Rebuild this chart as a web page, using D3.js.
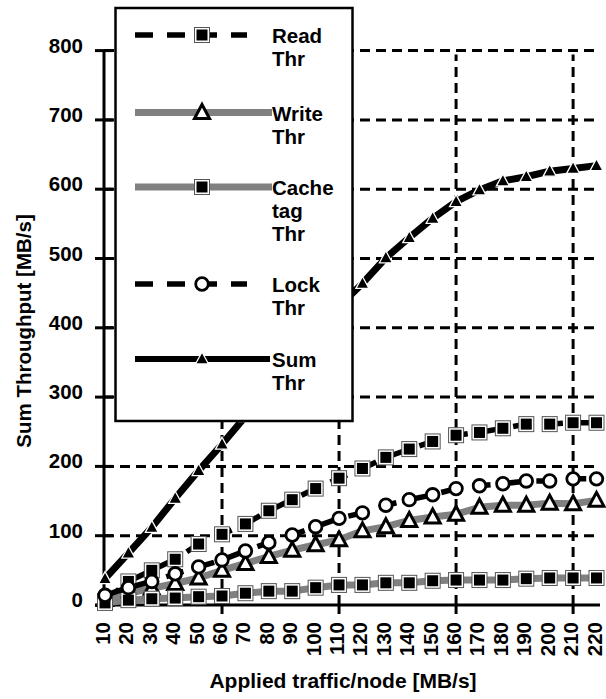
<!DOCTYPE html>
<html>
<head>
<meta charset="utf-8">
<script src="https://cdn.jsdelivr.net/npm/d3@7"></script>
<style>
  html, body { margin: 0; padding: 0; background: #fff; }
  svg { display: block; }
  text { font-family: "Liberation Sans", Arial, sans-serif; font-weight: bold; fill: #000; }
</style>
</head>
<body>
<svg id="chart" width="606" height="699"></svg>
<script>
// ---------------- data ----------------
const categories = [10, 20, 30, 40, 50, 60, 70, 80, 90, 100, 110, 120, 130, 140, 150, 160, 170, 180, 190, 200, 210, 220];
const readThr  = [6, 34, 50, 66, 88, 102, 117, 136, 152, 168, 183, 197, 213, 225, 236, 245, 249, 255, 261, 261, 263, 263];
const writeThr = [8, 17, 24, 31, 39, 50, 60, 70, 79, 87, 94, 107, 113, 122, 127, 131, 141, 144, 144, 147, 146, 151];
const cacheTagThr = [3, 7, 9, 10, 12, 13, 17, 20, 20, 25, 29, 29, 32, 32, 35, 36, 36, 36, 38, 39, 39, 39];
const lockThr  = [14, 25, 34, 45, 55, 65, 78, 90, 101, 113, 125, 133, 144, 152, 159, 168, 172, 175, 179, 179, 182, 182];
const sumThr   = [38, 75, 112, 154, 194, 232, 272, 316, 352, 394, 431, 464, 501, 530, 558, 582, 599, 612, 618, 626, 630, 634];
const yTicks = [0, 100, 200, 300, 400, 500, 600, 700, 800];
const xMajorTicks = [10, 60, 110, 160, 210];
const seriesNames = [["Read", "Thr"], ["Write", "Thr"], ["Cache", "tag", "Thr"], ["Lock", "Thr"], ["Sum", "Thr"]];
const xTitle = "Applied traffic/node [MB/s]";
const yTitle = "Sum Throughput [MB/s]";

// ---------------- layout ----------------
const svg = d3.select("#chart");
const x = d3.scalePoint().domain(categories).range([105, 596.5]);
const y = d3.scaleLinear().domain([0, 800]).range([605, 50.6]);
const xLeft = 104, xRight = 600;
const GRAY = "#808080";

// gridlines
const grid = svg.append("g");
grid.selectAll("line.h").data(yTicks.filter(d => d > 0)).join("line")
  .attr("x1", xLeft).attr("x2", xRight)
  .attr("y1", d => y(d)).attr("y2", d => y(d))
  .attr("stroke", "#000").attr("stroke-width", 3).attr("stroke-dasharray", "10,6");
grid.selectAll("line.v").data(xMajorTicks.filter(d => d !== 10)).join("line")
  .attr("x1", d => x(d)).attr("x2", d => x(d))
  .attr("y1", y(0)).attr("y2", y(800) + 4)
  .attr("stroke", "#000").attr("stroke-width", 3).attr("stroke-dasharray", "10,6");

// axes
const axes = svg.append("g");
axes.append("line").attr("x1", xLeft).attr("x2", xLeft).attr("y1", y(800)).attr("y2", y(0) + 1.5)
  .attr("stroke", "#000").attr("stroke-width", 3);
axes.append("line").attr("x1", xLeft).attr("x2", xRight).attr("y1", y(0)).attr("y2", y(0))
  .attr("stroke", "#000").attr("stroke-width", 3);
axes.selectAll("line.yt").data(yTicks).join("line")
  .attr("x1", 95).attr("x2", 113).attr("y1", d => y(d)).attr("y2", d => y(d))
  .attr("stroke", "#000").attr("stroke-width", 3);
axes.selectAll("line.xt").data(xMajorTicks.filter(d => d !== 10)).join("line")
  .attr("x1", d => x(d)).attr("x2", d => x(d)).attr("y1", y(0)).attr("y2", y(0) + 9)
  .attr("stroke", "#000").attr("stroke-width", 3);
axes.selectAll("text.yl").data(yTicks).join("text")
  .attr("x", 83).attr("y", d => y(d) + 2)
  .attr("text-anchor", "end").attr("font-size", 20.5).text(d => d);
axes.selectAll("text.xl").data(categories).join("text")
  .attr("transform", d => `translate(${x(d) + 5},622) rotate(-90)`)
  .attr("text-anchor", "end").attr("font-size", 20.5).text(d => d);
svg.append("text").attr("x", 343).attr("y", 688).attr("text-anchor", "middle")
  .attr("font-size", 21).text(xTitle);
svg.append("text").attr("transform", "translate(31,331) rotate(-90)").attr("text-anchor", "middle")
  .attr("font-size", 20.5).text(yTitle);

// ---------------- markers ----------------
function squareMarker(g) {
  g.append("rect").attr("x", -7.5).attr("y", -7.5).attr("width", 15).attr("height", 15)
    .attr("fill", "#fff").attr("stroke", "#555").attr("stroke-width", 1);
  g.append("rect").attr("x", -5.5).attr("y", -5.5).attr("width", 11).attr("height", 11).attr("fill", "#000");
}
function openTriangle(g) {
  g.append("path").attr("d", "M0,-8 L7.5,6 L-7.5,6 Z")
    .attr("fill", "#fff").attr("stroke", "#000").attr("stroke-width", 3).attr("stroke-linejoin", "miter");
}
function openCircle(g) {
  g.append("circle").attr("r", 6.3).attr("fill", "#fff").attr("stroke", "#000").attr("stroke-width", 2.8);
}
function filledTriangle(g) {
  g.append("path").attr("d", "M0,-7 L6.5,5 L-6.5,5 Z")
    .attr("fill", "#000").attr("stroke", "#fff").attr("stroke-width", 1.3);
}

const series = [
  { values: readThr, color: "#000", width: 5.5, dash: "18,14", marker: squareMarker, legendEnd: 247 },
  { values: writeThr, color: GRAY, width: 7, dash: null, marker: openTriangle, legendEnd: 272 },
  { values: cacheTagThr, color: GRAY, width: 7, dash: null, marker: squareMarker, legendEnd: 272 },
  { values: lockThr, color: "#000", width: 5.5, dash: "18,14", marker: openCircle, legendEnd: 247 },
  { values: sumThr, color: "#000", width: 7, dash: null, marker: filledTriangle, legendEnd: 270 }
];

const line = d3.line().x((d, i) => x(categories[i])).y(d => y(d));
const plot = svg.append("g");
series.forEach(s => {
  const g = plot.append("g");
  g.append("path").datum(s.values).attr("d", line)
    .attr("fill", "none").attr("stroke", s.color).attr("stroke-width", s.width)
    .attr("stroke-dasharray", s.dash).attr("stroke-linejoin", "round");
  g.selectAll("g.m").data(s.values).join("g")
    .attr("transform", (d, i) => `translate(${x(categories[i])},${y(d)})`)
    .each(function () { s.marker(d3.select(this)); });
});

// ---------------- legend ----------------
const legend = svg.append("g");
legend.append("rect").attr("x", 115.5).attr("y", 8).attr("width", 237).attr("height", 413)
  .attr("fill", "#fff").attr("stroke", "#000").attr("stroke-width", 2.5);
const legendY = [35, 112.5, 187, 284, 359];
series.forEach((s, k) => {
  const ly = legendY[k];
  legend.append("line").attr("x1", 135).attr("x2", s.legendEnd).attr("y1", ly).attr("y2", ly)
    .attr("stroke", s.color).attr("stroke-width", s.width === 7 && s.color === "#000" ? 6 : s.width)
    .attr("stroke-dasharray", s.dash);
  const m = legend.append("g").attr("transform", `translate(202,${ly})`);
  s.marker(m);
  legend.append("text").attr("x", 272).attr("y", ly + 8).attr("font-size", 20.5)
    .selectAll("tspan").data(seriesNames[k]).join("tspan")
    .attr("x", 272).attr("dy", (d, i) => i === 0 ? 0 : 23).text(d => d);
});
</script>
</body>
</html>
